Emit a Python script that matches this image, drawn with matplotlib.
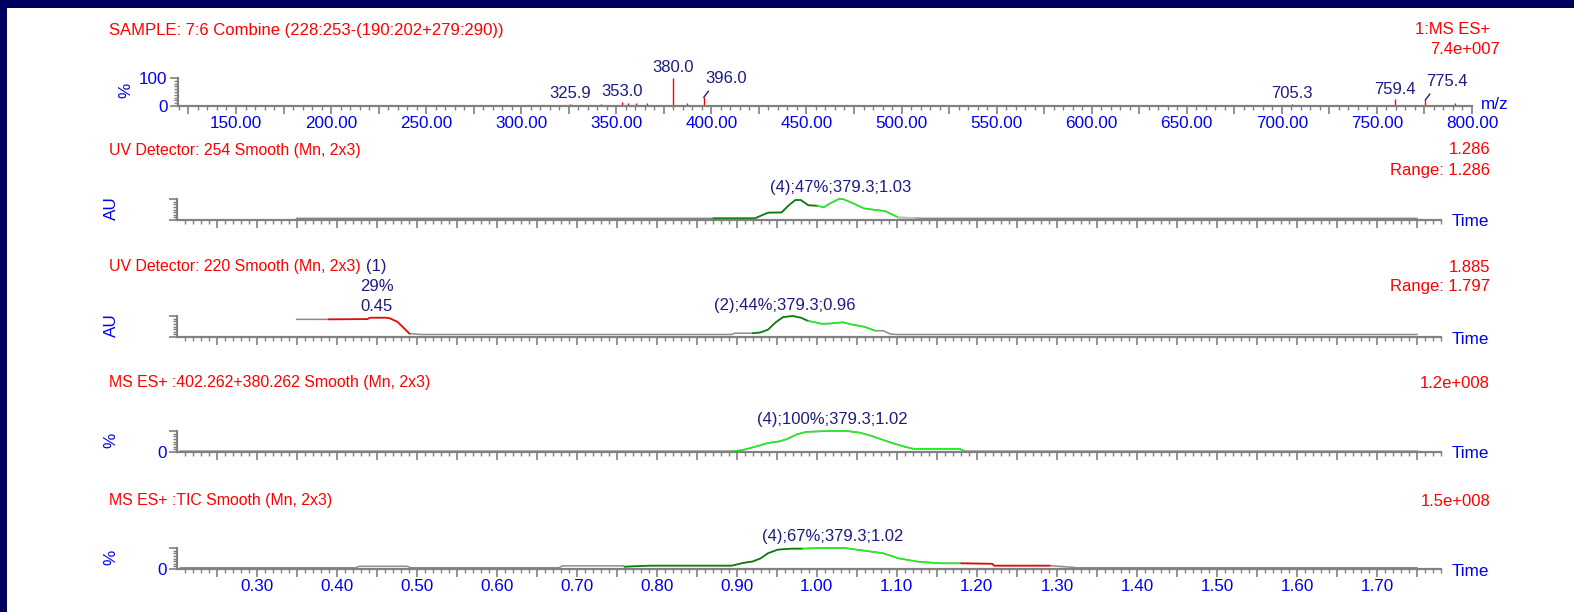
import numpy as np
import matplotlib.pyplot as plt
from matplotlib.patches import Rectangle
from matplotlib.ticker import MultipleLocator, FuncFormatter, FixedLocator

plt.rcParams['font.family'] = ['Liberation Sans', 'DejaVu Sans']

W, H, DPI = 1574, 612, 100

# mass spectrum: m/z and % intensity
ms_mz = [325.9, 342.1, 353.0, 355.9, 360.4, 366.4, 380.0, 387.3, 396.0, 705.3, 759.4, 775.4, 791.0]
ms_int = [8, 8, 14, 9, 9, 9, 100, 9, 31, 8, 24, 21, 10]
ms_labels = ['325.9', '', '353.0', '', '', '', '380.0', '', '396.0', '705.3', '759.4', '775.4', '']
ms_leader = ['396.0', '775.4']

# chromatograms: time (min) and % of panel range
uv254_t = [0.35, 0.871, 0.9225, 0.93, 0.939, 0.956, 0.965, 0.973, 0.98, 0.9895, 1.001, 1.0086,
           1.017, 1.0278, 1.0325, 1.045, 1.059, 1.073, 1.085, 1.102, 1.1234, 1.13, 1.75]
uv254_y = [8, 8, 8, 20, 35, 36, 70, 95, 95, 70, 68, 60,
           80, 100, 100, 80, 55, 48, 43, 12, 10, 8, 8]
uv254_seg = [(0.871, 1.001, 'dark'), (1.001, 1.102, 'bright'), (1.102, 1.1234, 'light')]

uv220_t = [0.35, 0.39, 0.438, 0.442, 0.462, 0.467, 0.476, 0.482, 0.491, 0.505, 0.894, 0.897,
           0.92, 0.93, 0.939, 0.949, 0.958, 0.970, 0.980, 0.9895, 0.9966, 1.006, 1.0158, 1.0325,
           1.0446, 1.059, 1.073, 1.083, 1.092, 1.10, 1.75]
uv220_y = [84, 84, 85, 92, 92, 88, 72, 50, 16, 12, 12, 18,
           18, 22, 35, 71, 95, 100, 92, 76, 71, 63, 64, 70,
           59, 49, 30, 30, 14, 12, 12]
uv220_seg = [(0.39, 0.491, 'red'), (0.92, 0.9895, 'dark'), (0.9895, 1.073, 'bright')]

ms402_t = [0.205, 0.894, 0.906, 0.925, 0.939, 0.954, 0.963, 0.975, 0.987, 1.016, 1.0375, 1.054,
           1.069, 1.083, 1.0975, 1.111, 1.121, 1.179, 1.184, 1.75]
ms402_y = [4, 4, 8, 27, 43, 51, 62, 84, 96, 100, 100, 92,
           76, 57, 39, 24, 15, 15, 4, 4]
ms402_seg = [(0.894, 1.184, 'bright')]

tic_t = [0.205, 0.424, 0.428, 0.488, 0.4925, 0.678, 0.682, 0.758, 0.760, 0.791, 0.894, 0.908,
         0.92, 0.93, 0.939, 0.951, 0.968, 0.982, 1.006, 1.035, 1.054, 1.083, 1.102, 1.126,
         1.1545, 1.1807, 1.219, 1.2215, 1.291, 1.3195, 1.325, 1.75]
tic_y = [6, 6, 13, 13, 6, 6, 15, 15, 11, 16, 16, 29,
         36, 51, 75, 92, 97, 97, 100, 100, 90, 75, 51, 35,
         27, 27, 25, 16, 16, 8, 6, 6]
tic_seg = [(0.760, 0.982, 'dark'), (0.982, 1.1807, 'bright'), (1.1807, 1.291, 'red')]

titles = ['SAMPLE: 7:6 Combine (228:253-(190:202+279:290))',
          'UV Detector: 254 Smooth (Mn, 2x3)',
          'UV Detector: 220 Smooth (Mn, 2x3)',
          'MS ES+ :402.262+380.262 Smooth (Mn, 2x3)',
          'MS ES+ :TIC Smooth (Mn, 2x3)']
right_texts = [['1:MS ES+', '7.4e+007'], ['1.286', 'Range: 1.286'], ['1.885', 'Range: 1.797'],
               ['1.2e+008'], ['1.5e+008']]
ylabels = ['%', 'AU', 'AU', '%', '%']

peak_notes = [
    [('(4);47%;379.3;1.03', 1.03)],
    [('(1)\n29%\n0.45', 0.45), ('(2);44%;379.3;0.96', 0.96)],
    [('(4);100%;379.3;1.02', 1.02)],
    [('(4);67%;379.3;1.02', 1.02)],
]

NAVY_BG = '#000060'
RED = '#ff0000'
BLUE = '#0000f0'
NAVY = '#1c1c80'
GRAY = '#808080'
colors = {'dark': '#0a800a', 'bright': '#22ee22', 'light': '#c0c0c0', 'red': '#ff0000'}
LABEL_SIZE = 12.3

fig = plt.figure(figsize=(W / DPI, H / DPI), dpi=DPI)
fig.patch.set_facecolor(NAVY_BG)
fig.add_artist(Rectangle((7 / W, 0), 1, 1 - 8 / H, transform=fig.transFigure,
                         facecolor='white', edgecolor='none', zorder=-10))


def add_px_axes(x0, x1, yb, yt):
    return fig.add_axes([x0 / W, 1 - yb / H, (x1 - x0) / W, (yb - yt) / H])


def style(ax):
    ax.patch.set_visible(False)
    for s in ('top', 'right'):
        ax.spines[s].set_visible(False)
    for s in ('left', 'bottom'):
        ax.spines[s].set_color(GRAY)
        ax.spines[s].set_linewidth(1.6)
    ax.tick_params(which='major', direction='out', length=6, width=1.2, color=GRAY,
                   labelcolor=BLUE, labelsize=LABEL_SIZE, pad=1.5)
    ax.tick_params(which='minor', direction='out', length=3, width=1.0, color=GRAY)


def ftext(x, y, s, **kw):
    fig.text(x / W, 1 - y / H, s, **kw)


# --- mass spectrum panel ---
ax = add_px_axes(178, 1472, 106, 78)
style(ax)
ax.set_xlim(119.5, 800)
ax.set_ylim(0, 100)
ax.vlines(ms_mz, 0, ms_int, color=RED, lw=1.0, clip_on=False)
for mz, h, lab in zip(ms_mz, ms_int, ms_labels):
    if not lab:
        continue
    if lab in ms_leader:
        ax.annotate(lab, xy=(mz, h), xytext=(1, 8), textcoords='offset points',
                    ha='left', va='bottom', color=NAVY, fontsize=12, annotation_clip=False,
                    arrowprops=dict(arrowstyle='-', color=NAVY, lw=1.0, shrinkA=2, shrinkB=0,
                                    relpos=(0.2, 0.1)))
    else:
        ax.annotate(lab, xy=(mz, h), xytext=(0, 2), textcoords='offset points',
                    ha='center', va='bottom', color=NAVY, fontsize=12, annotation_clip=False)
ax.xaxis.set_major_locator(MultipleLocator(25))
ax.xaxis.set_minor_locator(MultipleLocator(5))
ax.xaxis.set_major_formatter(FuncFormatter(
    lambda v, p: f'{v:.2f}' if abs(v / 50 - round(v / 50)) < 1e-6 else ''))
ax.yaxis.set_major_locator(FixedLocator([0, 100]))
ax.yaxis.set_minor_locator(MultipleLocator(10))
ax.yaxis.set_major_formatter(FuncFormatter(lambda v, p: f'{v:.0f}'))
ftext(1481, 104, 'm/z', color=BLUE, fontsize=LABEL_SIZE, va='center', ha='left')

# --- chromatogram panels ---
traces = [(uv254_t, uv254_y, uv254_seg), (uv220_t, uv220_y, uv220_seg),
          (ms402_t, ms402_y, ms402_seg), (tic_t, tic_y, tic_seg)]
bottoms = [220, 337, 452, 569]
for i, ((t, y, seg), yb) in enumerate(zip(traces, bottoms)):
    ax = add_px_axes(177, 1441, yb, yb - 21)
    style(ax)
    ax.set_xlim(0.2005, 1.78)
    ax.set_ylim(0, 100)
    t = np.array(t)
    y = np.array(y, dtype=float)
    ax.plot(t, y, color='#8c8c8c', lw=1.1, clip_on=False, solid_joinstyle='round')
    for t0, t1, c in seg:
        m = (t >= t0 - 1e-9) & (t <= t1 + 1e-9)
        ax.plot(t[m], y[m], color=colors[c], lw=1.2, clip_on=False, solid_joinstyle='round')
    for note, rt in peak_notes[i]:
        ax.annotate(note, xy=(rt, np.interp(rt, t, y)), xytext=(0, 3), textcoords='offset points',
                    ha='center', va='bottom', color=NAVY, fontsize=12, linespacing=1.4,
                    annotation_clip=False)
    ax.xaxis.set_major_locator(MultipleLocator(0.05))
    ax.xaxis.set_minor_locator(MultipleLocator(0.01))
    ax.xaxis.set_major_formatter(FuncFormatter(
        lambda v, p: f'{v:.2f}' if abs(v * 10 - round(v * 10)) < 1e-6 else ''))
    if i < 3:
        ax.tick_params(labelbottom=False)
    ax.yaxis.set_major_locator(FixedLocator([0, 100]))
    ax.yaxis.set_minor_locator(MultipleLocator(12.5))
    if ylabels[i + 1] == '%':
        ax.yaxis.set_major_formatter(FuncFormatter(lambda v, p: '0' if v == 0 else ''))
    else:
        ax.yaxis.set_major_formatter(FuncFormatter(lambda v, p: ''))
    ftext(1452, yb + 2, 'Time', color=BLUE, fontsize=LABEL_SIZE, va='center', ha='left')

# --- header texts ---
title_y = [30, 150, 267, 383, 501]
title_size = [12, 11.4, 11.4, 11.4, 11.4]
label_y = [90, 208, 325, 440, 557]
label_x = [126, 111, 111, 111, 111]
for k in range(5):
    ftext(109, title_y[k], titles[k], color=RED, fontsize=title_size[k], va='center', ha='left')
    for j, s in enumerate(right_texts[k]):
        xr = 1500 if (k == 0 and j == 1) else 1490
        ftext(xr, title_y[k] + 20 * j, s, color=RED, fontsize=12, va='center', ha='right')
    ftext(label_x[k], label_y[k], ylabels[k], color=BLUE, fontsize=LABEL_SIZE,
          rotation=90, va='center', ha='center')

fig.savefig('out.png', dpi=DPI, facecolor=fig.get_facecolor())
